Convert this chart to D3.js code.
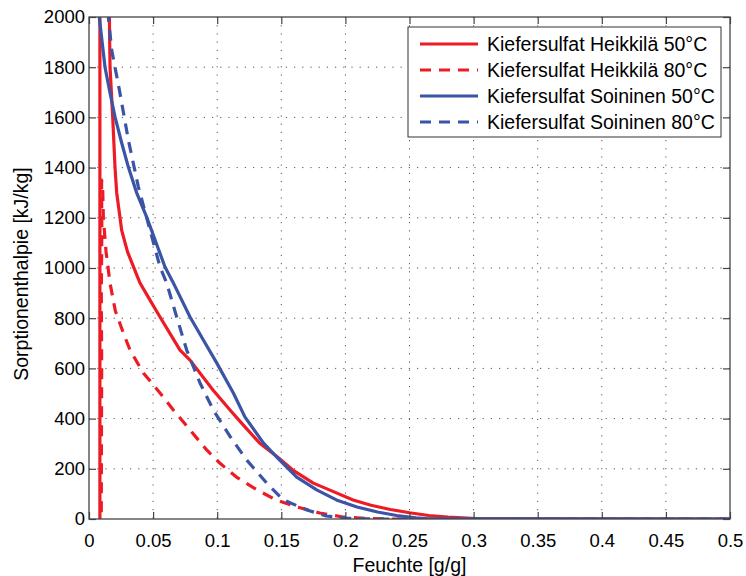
<!DOCTYPE html>
<html>
<head>
<meta charset="utf-8">
<script src="https://cdn.jsdelivr.net/npm/d3@7"></script>
<style>
  body { margin: 0; background: #fff; }
  text { font-family: "Liberation Sans", Arial, Helvetica, sans-serif; fill: #000; }
</style>
</head>
<body>
<div id="chart"></div>
<script>
// data: [moisture g/g, enthalpy kJ/kg]
var heikkila50 = [
  [0.0085, -200], [0.0085, 2300], [0.0158, 2300], [0.0159, 2000], [0.0164, 1800],
  [0.0185, 1600], [0.0203, 1400], [0.0216, 1300], [0.0255, 1150], [0.0300, 1065],
  [0.0398, 940], [0.0476, 872], [0.0554, 805], [0.071, 673], [0.0788, 633],
  [0.0967, 514], [0.110, 434], [0.119, 382], [0.133, 303], [0.147, 247],
  [0.159, 195], [0.175, 143], [0.193, 104], [0.206, 76], [0.22, 55],
  [0.235, 38], [0.25, 25], [0.265, 14], [0.28, 8], [0.295, 4], [0.305, 1], [0.5, 0]
];
var heikkila80 = [
  [0.0095, -200], [0.0097, 300], [0.0099, 600], [0.0096, 900], [0.0100, 1150],
  [0.0098, 1350], [0.0106, 1330], [0.0112, 1200], [0.0133, 1065], [0.0164, 940],
  [0.0205, 830], [0.0268, 741], [0.032, 673], [0.0424, 582], [0.0554, 502],
  [0.0658, 434], [0.0788, 355], [0.0918, 275], [0.102, 223], [0.115, 167],
  [0.131, 116], [0.146, 76], [0.162, 48], [0.18, 24], [0.198, 8], [0.215, 3],
  [0.235, 0], [0.5, 0]
];
var soininen50 = [
  [0.0075, 2100], [0.008, 2000], [0.0125, 1800], [0.0164, 1697], [0.0203, 1602],
  [0.0255, 1498], [0.0307, 1402], [0.0372, 1299], [0.045, 1203], [0.0515, 1112],
  [0.0593, 1004], [0.0658, 940], [0.0697, 900], [0.0788, 805], [0.0892, 713],
  [0.0996, 622], [0.1126, 502], [0.1217, 406], [0.136, 303], [0.1464, 247],
  [0.162, 167], [0.1776, 116], [0.193, 76], [0.209, 48], [0.225, 28],
  [0.24, 14], [0.255, 5], [0.265, 1], [0.5, 0]
];
var soininen80 = [
  [0.0148, 2100], [0.0151, 2000], [0.0177, 1868], [0.0237, 1709], [0.0307, 1510],
  [0.0385, 1323], [0.0476, 1151], [0.0554, 1004], [0.0606, 940], [0.0684, 805],
  [0.0762, 673], [0.0866, 542], [0.097, 434], [0.11, 329], [0.123, 235],
  [0.1386, 143], [0.1516, 76], [0.17, 36], [0.185, 12], [0.2, 4], [0.215, 1],
  [0.23, 0], [0.5, 0]
];

var seriesNames = [
  "Kiefersulfat Heikkilä 50°C",
  "Kiefersulfat Heikkilä 80°C",
  "Kiefersulfat Soininen 50°C",
  "Kiefersulfat Soininen 80°C"
];
var seriesData = [heikkila50, heikkila80, soininen50, soininen80];
var seriesColors = ["#ed1c24", "#ed1c24", "#3b54a5", "#3b54a5"];
var seriesDashed = [false, true, false, true];

var xTicks = [0, 0.05, 0.1, 0.15, 0.2, 0.25, 0.3, 0.35, 0.4, 0.45, 0.5];
var yTicks = [0, 200, 400, 600, 800, 1000, 1200, 1400, 1600, 1800, 2000];

const svgWidth = 746;
const svgHeight = 576;

const margin = { top: 17, right: 16, bottom: 57, left: 89 };

const chartWidth = svgWidth - margin.left - margin.right;
const chartHeight = svgHeight - margin.top - margin.bottom;

var svg = d3.select("#chart")
  .append("svg")
  .attr("width", svgWidth)
  .attr("height", svgHeight);

var chartGroup = svg.append("g")
  .attr("transform", `translate(${margin.left}, ${margin.top})`);

var xScale = d3.scaleLinear().domain([0, 0.5]).range([0, chartWidth]);
var yScale = d3.scaleLinear().domain([0, 2000]).range([chartHeight, 0]);

// dotted grid
chartGroup.append("g")
  .selectAll("line")
  .data(xTicks.slice(1, -1))
  .enter()
  .append("line")
  .attr("x1", d => xScale(d)).attr("x2", d => xScale(d))
  .attr("y1", 0).attr("y2", chartHeight)
  .attr("stroke", "#555")
  .attr("stroke-width", 1)
  .attr("stroke-dasharray", "1.2,7");

chartGroup.append("g")
  .selectAll("line")
  .data(yTicks.slice(1, -1))
  .enter()
  .append("line")
  .attr("y1", d => yScale(d)).attr("y2", d => yScale(d))
  .attr("x1", 0).attr("x2", chartWidth)
  .attr("stroke", "#555")
  .attr("stroke-width", 1)
  .attr("stroke-dasharray", "1.2,7");

// clip lines to the axes box
svg.append("defs").append("clipPath")
  .attr("id", "clip")
  .append("rect")
  .attr("x", 0).attr("y", 0)
  .attr("width", chartWidth).attr("height", chartHeight);

var line = d3.line()
  .x(d => xScale(d[0]))
  .y(d => yScale(d[1]));

var linesGroup = chartGroup.append("g").attr("clip-path", "url(#clip)");

seriesData.forEach(function(data, i) {
  linesGroup.append("path")
    .datum(data)
    .attr("d", line)
    .attr("fill", "none")
    .attr("stroke", seriesColors[i])
    .attr("stroke-width", 3.2)
    .attr("stroke-linejoin", "round")
    .attr("stroke-dasharray", seriesDashed[i] ? "11,8" : null);
});

// axes, ticks pointing inward on all four sides
var axisColor = "#444";

var bottomAxis = d3.axisBottom(xScale).tickValues(xTicks).tickFormat(d => d)
  .tickSizeInner(-7).tickSizeOuter(0).tickPadding(15);
var topAxis = d3.axisTop(xScale).tickValues(xTicks).tickFormat("")
  .tickSizeInner(-7).tickSizeOuter(0);
var leftAxis = d3.axisLeft(yScale).tickValues(yTicks).tickFormat(d => d)
  .tickSizeInner(-7).tickSizeOuter(0).tickPadding(4);
var rightAxis = d3.axisRight(yScale).tickValues(yTicks).tickFormat("")
  .tickSizeInner(-7).tickSizeOuter(0);

var xAxis = chartGroup.append("g")
  .attr("transform", `translate(0, ${chartHeight})`)
  .call(bottomAxis);
var xAxisTop = chartGroup.append("g").call(topAxis);
var yAxis = chartGroup.append("g").call(leftAxis);
var yAxisRight = chartGroup.append("g")
  .attr("transform", `translate(${chartWidth}, 0)`)
  .call(rightAxis);

[xAxis, xAxisTop, yAxis, yAxisRight].forEach(function(ax) {
  ax.select(".domain").remove();
  ax.selectAll(".tick line").attr("stroke", axisColor).attr("stroke-width", 1.2);
  ax.selectAll(".tick text")
    .style("font-family", "'Liberation Sans', Arial, sans-serif")
    .style("font-size", "18.5px")
    .attr("fill", "#000");
});

chartGroup.append("rect")
  .attr("x", 0).attr("y", 0)
  .attr("width", chartWidth).attr("height", chartHeight)
  .attr("fill", "none")
  .attr("stroke", axisColor)
  .attr("stroke-width", 1.3);

// axis labels
svg.append("text")
  .attr("x", margin.left + chartWidth / 2)
  .attr("y", 572)
  .attr("text-anchor", "middle")
  .style("font-size", "19.5px")
  .text("Feuchte [g/g]");

svg.append("text")
  .attr("transform", `translate(28, ${margin.top + chartHeight / 2 + 6}) rotate(-90)`)
  .attr("text-anchor", "middle")
  .style("font-size", "19.5px")
  .text("Sorptionenthalpie [kJ/kg]");

// legend
var legend = svg.append("g");
legend.append("rect")
  .attr("x", 408).attr("y", 27)
  .attr("width", 313).attr("height", 110)
  .attr("fill", "#fff")
  .attr("stroke", "#333")
  .attr("stroke-width", 1);

var legendItems = legend.selectAll("g.item")
  .data(seriesNames)
  .enter()
  .append("g")
  .attr("transform", (d, i) => `translate(420, ${44 + i * 26})`);

legendItems.append("line")
  .attr("x1", 0).attr("x2", 58)
  .attr("y1", 0).attr("y2", 0)
  .attr("stroke", (d, i) => seriesColors[i])
  .attr("stroke-width", 3.2)
  .attr("stroke-dasharray", (d, i) => seriesDashed[i] ? "11,8" : null);

legendItems.append("text")
  .attr("x", 67)
  .attr("y", 0)
  .attr("dy", "0.35em")
  .style("font-size", "19.5px")
  .text(d => d);
</script>
</body>
</html>
